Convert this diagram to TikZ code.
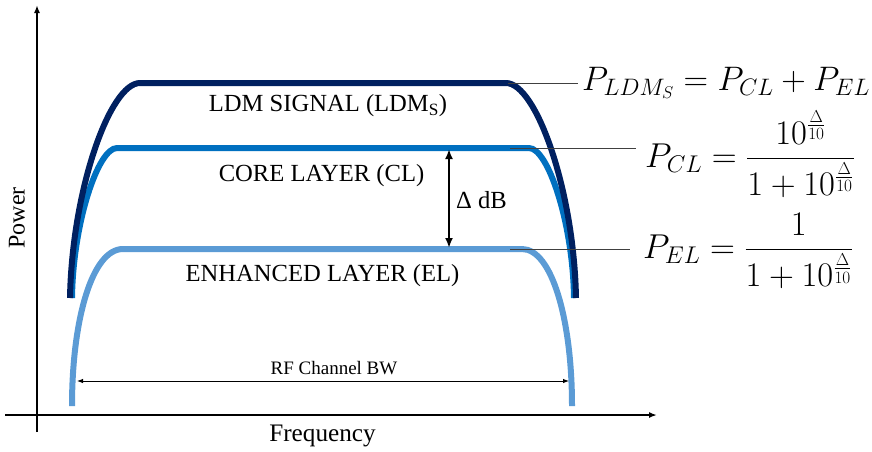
\RequirePackage{fix-cm}
\documentclass[tikz,border=0pt]{standalone}
\usepackage{amsmath}
\usepackage{fontspec}
\setmainfont{Liberation Serif}
\usetikzlibrary{arrows.meta}

\definecolor{ldmblue}{HTML}{002060}
\definecolor{coreblue}{HTML}{0070C0}
\definecolor{enhblue}{HTML}{5B9BD5}
\definecolor{leadgray}{HTML}{404040}

\begin{document}
\begin{tikzpicture}[x=1pt,y=-1pt,
  spectrum/.style={line width=6pt,line cap=butt},
  axisline/.style={line width=2.4pt,-{Latex[length=8pt,width=6pt]}},
  leader/.style={line width=1pt,draw=leadgray},
  label/.style={inner sep=0pt,font=\fontsize{24.6}{28}\selectfont},
  formula/.style={inner sep=0pt,anchor=west,font=\fontsize{34.5}{40}\selectfont}]
\useasboundingbox (0,0) rectangle (872,451);

% axes
\coordinate (yfoot) at (37,432);
\coordinate (ytop) at (37,5);
\coordinate (xfoot) at (5,415);
\coordinate (xtip) at (657,415);
\draw[axisline] (yfoot) -- (ytop);
\draw[axisline] (xfoot) -- (xtip);
\node[label,font=\fontsize{25.2}{28}\selectfont] (freq) at (322.5,436) {Frequency};
\node[label,font=\fontsize{24}{26}\selectfont,rotate=90] (power) at (17,218) {Power};

% enhanced layer spectrum
\draw[spectrum,enhblue] (72,406) .. controls (72,320) and (92,249) .. (123,249)
  -- (522,249) .. controls (552,249) and (572,320) .. (572,406);
% core layer spectrum
\draw[spectrum,coreblue] (72,298) .. controls (73,223) and (98,148) .. (117,148)
  -- (529,148) .. controls (548,148) and (573,223) .. (574,298);
% composite LDM signal
\draw[spectrum,ldmblue] (70,298) .. controls (72,190) and (110,83) .. (140,83)
  -- (506,83) .. controls (536,83) and (574,190) .. (576,298);

% layer labels
\node[label] (ldm) at (328,106) {LDM SIGNAL (LDM\textsubscript{S})};
\node[label] (core) at (321.5,176) {CORE LAYER (CL)};
\node[label] (enh) at (322.5,276) {ENHANCED LAYER (EL)};

% injection level between the layers
\coordinate (dtop) at (449,149);
\coordinate (dbot) at (449,248);
\draw[line width=2.5pt,{Latex[length=10pt,width=8pt]}-{Latex[length=10pt,width=8pt]}] (dtop) -- (dbot);
\node[label,anchor=west] (delta) at (456,200) {Δ dB};

% channel bandwidth
\coordinate (bwl) at (77,381);
\coordinate (bwr) at (569,381);
\draw[line width=0.9pt,{Latex[length=6pt,width=4.5pt]}-{Latex[length=6pt,width=4.5pt]}] (bwl) -- (bwr);
\node[label,font=\fontsize{19}{21}\selectfont] (bw) at (334,368) {RF Channel BW};

% power relations
\node[formula,font=\fontsize{34}{40}\selectfont] (fldm) at (582,83) {$P_{LDM_S} = P_{CL} + P_{EL}$};
\node[formula] (fcl) at (645,154) {$P_{CL} = \dfrac{10^{\frac{\Delta}{10}}}{1+10^{\frac{\Delta}{10}}}$};
\node[formula] (fel) at (643,251) {$P_{EL} = \dfrac{1}{1+10^{\frac{\Delta}{10}}}$};

% leader lines
\coordinate (ldmlead) at (508,83);
\coordinate (corelead) at (510,148);
\coordinate (enhlead) at (510,249);
\draw[leader] (ldmlead) -- ([xshift=-4pt]fldm.west |- ldmlead);
\draw[leader] (corelead) -- ([xshift=-9pt]fcl.west |- corelead);
\draw[leader] (enhlead) -- ([xshift=-13pt]fel.west |- enhlead);
\end{tikzpicture}
\end{document}
